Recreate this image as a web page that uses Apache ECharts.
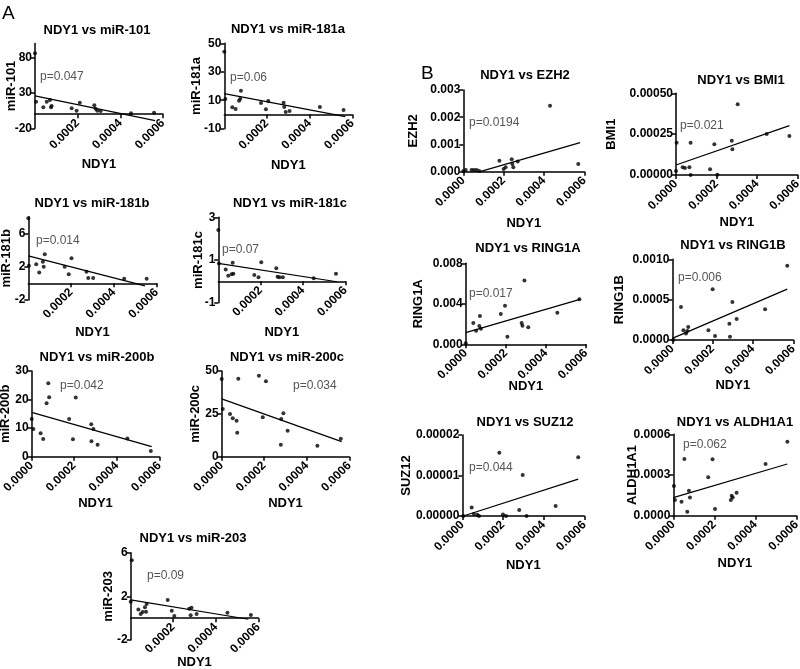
<!DOCTYPE html>
<html>
<head>
<meta charset="utf-8">
<script src="https://cdn.jsdelivr.net/npm/echarts@6/dist/echarts.min.js"></script>
<style>
  html, body { margin: 0; padding: 0; background: #fff; }
  #main { width: 800px; height: 669px; }
</style>
</head>
<body>
<div id="main"></div>
<script>
// x ticks shared by every panel (NDY1)
const xTicksShort = [0.0002, 0.0004, 0.0006]
const xTicksFull = [0, 0.0002, 0.0004, 0.0006]

// ---- panel A: NDY1 vs miRNAs ----
const mir101 = [[0, 86.3], [0.000005, 17.7], [0.000039, 9.8], [0.000055, 17.7], [0.00007, 20.1], [0.000075, 9.8], [0.000078, 11.6], [0.000172, 8.3], [0.000195, 5], [0.00021, 16.3], [0.000278, 12.6], [0.000284, 7.8], [0.000292, 5], [0.000308, 4.5], [0.00045, 1.3], [0.000558, 2.1]]
const mir101Fit = [[0, 26], [0.000563, -9.2]]
const mir101Ticks = [-20, 30, 80]

const mir181a = [[0, 44.1], [0.000005, 10.9], [0.0000375, 5.1], [0.000053, 3.9], [0.000069, 9.7], [0.000075, 11.1], [0.000078, 16.7], [0.000172, 8.1], [0.000195, 3.7], [0.000206, 9.5], [0.000278, 8.3], [0.000281, 5.3], [0.000288, 1.8], [0.000306, 2.5], [0.000448, 5.3], [0.000559, 3.2]]
const mir181aFit = [[0, 14.6], [0.000567, -1.5]]
const mir181aTicks = [-10, 10, 30, 50]

const mir181b = [[0, 7.8], [0.000003, 2.1], [0.000037, 2.3], [0.000051, 1.3], [0.000068, 2.6], [0.000072, 2.0], [0.000077, 3.5], [0.00017, 2.0], [0.000189, 1.1], [0.000202, 3.0], [0.000272, 1.4], [0.00028, 0.64], [0.000303, 0.64], [0.000448, 0.55], [0.000553, 0.55]]
const mir181bFit = [[0, 3.3], [0.000545, -0.3]]
const mir181bTicks = [-2, 2, 6]

const mir181c = [[0, 2.4], [0.000003, 0.84], [0.000035, 0.56], [0.000047, 0.26], [0.000063, 0.33], [0.000068, 0.87], [0.000071, 0.36], [0.00017, 0.3], [0.00019, 0.19], [0.000203, 0.89], [0.000274, 0.61], [0.00028, 0.22], [0.000289, 0.19], [0.000305, 0.19], [0.000451, 0.15], [0.000556, 0.36]]
const mir181cFit = [[0, 0.84], [0.00056, -0.02]]
const mir181cTicks = [-1, 1, 3]

const mir200b = [[0, 13.2], [0.000008, 9.7], [0.000042, 8.2], [0.000054, 6.2], [0.00007, 18.7], [0.000078, 25.7], [0.000082, 20.8], [0.000176, 13.2], [0.000194, 6.1], [0.000207, 20.7], [0.00028, 11.4], [0.00029, 9.7], [0.000281, 5.4], [0.00031, 4.2], [0.00045, 6.4], [0.00056, 2]]
const mir200bFit = [[0, 15.5], [0.000564, 3.5]]
const mir200bTicks = [0, 10, 20, 30]

const mir200c = [[0, 45.3], [0.000005, 27.8], [0.000039, 24.9], [0.000052, 22.4], [0.00007, 21], [0.000073, 14], [0.000078, 45.5], [0.000175, 47.3], [0.000193, 23], [0.000208, 44], [0.00028, 22], [0.00029, 25.3], [0.000278, 7], [0.00031, 15.2], [0.00045, 6.4], [0.00056, 10.5]]
const mir200cFit = [[0, 33.7], [0.000564, 8.8]]
const mir200cTicks = [0, 25, 50]

const mir203 = [[0.000005, 5.3], [0, 1.5], [0.000036, 0.8], [0.000047, 0.38], [0.000056, 0.57], [0.000067, 1.0], [0.000072, 0.6], [0.000075, 1.3], [0.000174, 1.67], [0.000193, 0.69], [0.000205, 0.2], [0.000275, 0.87], [0.000286, 0.96], [0.000282, 0.27], [0.00031, 0.38], [0.000455, 0.5], [0.000565, 0.29]]
const mir203Fit = [[0, 1.67], [0.000553, -0.1]]
const mir203Ticks = [-2, 2, 6]

// ---- panel B: NDY1 vs polycomb / ALDH1A1 ----
const ezh2 = [[0, 0.00003], [0.000012, 0.00006], [0.000041, 0.00006], [0.000053, 0.00006], [0.000066, 0.00006], [0.000079, 0.00003], [0.000179, 0.0004], [0.0002, 0.0001], [0.00021, 0.00016], [0.00024, 0.00046], [0.000243, 0.00028], [0.000248, 0.00016], [0.00027, 0.00037], [0.00043, 0.00242], [0.00057, 0.00028]]
const ezh2Fit = [[0.000083, 0], [0.000579, 0.00107]]
const ezh2Ticks = [0, 0.001, 0.002, 0.003]

const bmi1 = [[0, 0.0000245], [0.000003, 0.000198], [0.000033, 0.000047], [0.000044, 0.000043], [0.000066, 0.000047], [0.000072, 0.000198], [0.000072, 0], [0.000168, 0.000035], [0.000189, 0.000188], [0.000204, 0.000002], [0.000275, 0.00021], [0.000278, 0.000157], [0.000304, 0.000433], [0.000447, 0.000251], [0.000559, 0.000239]]
const bmi1Fit = [[0, 0.000061], [0.000559, 0.000302]]
const bmi1Ticks = [0, 0.00025, 0.0005]

const ring1a = [[0, 0.0001], [0.000038, 0.0021], [0.000052, 0.00135], [0.000068, 0.0018], [0.000071, 0.0028], [0.000076, 0.00154], [0.000175, 0.003], [0.000196, 0.0038], [0.000208, 0.00075], [0.000279, 0.0021], [0.000283, 0.00184], [0.000293, 0.0063], [0.000312, 0.00168], [0.000457, 0.00312], [0.000567, 0.00444]]
const ring1aFit = [[0, 0.00115], [0.00057, 0.00444]]
const ring1aTicks = [0, 0.004, 0.008]

const ring1b = [[0.000005, 0], [0.000043, 0.00041], [0.000055, 0.00012], [0.000068, 0.00008], [0.000074, 0.00011], [0.000079, 0.00016], [0.000179, 0.00012], [0.0002, 0.00063], [0.000212, 0.00005], [0.000283, 0.0002], [0.000286, 0.00004], [0.000298, 0.00047], [0.000319, 0.00026], [0.00046, 0.00038], [0.00057, 0.00092]]
const ring1bFit = [[0, 0.00002], [0.00057, 0.00063]]
const ring1bTicks = [0, 0.0005, 0.001]

const suz12 = [[0.000005, 0], [0.000046, 0.0000021], [0.000057, 0.0000005], [0.000074, 0.0000003], [0.000082, 0], [0.000182, 0.0000156], [0.0002, 0.0000004], [0.000215, 0], [0.00028, 0.0000015], [0.000297, 0.0000101], [0.000316, 0], [0.000459, 0.0000025], [0.00057, 0.0000145]]
const suz12Fit = [[0.000005, 0], [0.00057, 0.0000091]]
const suz12Ticks = [0, 0.00001, 0.00002]

const aldh1a1 = [[0.000003, 0.000219], [0.000008, 0.000116], [0.00004, 0.000103], [0.000054, 0.000418], [0.000068, 0.00003], [0.000076, 0.000184], [0.000081, 0.000135], [0.00017, 0.000283], [0.000191, 0.000416], [0.000203, 0.000049], [0.00028, 0.000116], [0.000284, 0.000147], [0.000289, 0.000135], [0.000308, 0.00017], [0.000449, 0.000381], [0.000555, 0.000546]]
const aldh1a1Fit = [[0, 0.000133], [0.000555, 0.000381]]
const aldh1a1Ticks = [0, 0.0003, 0.0006]

const FONT = 'Liberation Sans, Arial, sans-serif'

// layout of each small plot (grid box in px, label positions)
const panels = [
  { name: 'miR-101', p: 'p=0.047', data: mir101, fit: mir101Fit, ticks: mir101Ticks, min: -20, max: 100, dec: 0,
    box: [35, 43.6, 128, 84.7], xt: xTicksShort, titleAt: [97, 30], pAt: [40, 77], yGap: 17, xGap: 44 },
  { name: 'miR-181a', p: 'p=0.06', data: mir181a, fit: mir181aFit, ticks: mir181aTicks, min: -10, max: 50, dec: 0,
    box: [224.3, 43.3, 128, 85.4], xt: xTicksShort, titleAt: [288, 29], pAt: [230, 78], yGap: 21, xGap: 44 },
  { name: 'miR-181b', p: 'p=0.014', data: mir181b, fit: mir181bFit, ticks: mir181bTicks, min: -2, max: 8, dec: 0,
    box: [28.3, 216.7, 128.4, 83.3], xt: xTicksShort, titleAt: [92, 203], pAt: [36, 241], yGap: 15, xGap: 43 },
  { name: 'miR-181c', p: 'p=0.07', data: mir181c, fit: mir181cFit, ticks: mir181cTicks, min: -1, max: 3, dec: 0,
    box: [218.3, 217.3, 127, 85.4], xt: xTicksShort, titleAt: [290, 203], pAt: [222, 250], yGap: 13, xGap: 45 },
  { name: 'miR-200b', p: 'p=0.042', data: mir200b, fit: mir200bFit, ticks: mir200bTicks, min: 0, max: 30, dec: 0,
    box: [31.7, 371, 127.6, 85.7], xt: xTicksFull, titleAt: [97, 357], pAt: [60, 386], yGap: 20, xGap: 40 },
  { name: 'miR-200c', p: 'p=0.034', data: mir200c, fit: mir200cFit, ticks: mir200cTicks, min: 0, max: 50, dec: 0,
    box: [221.7, 371, 127.6, 85.7], xt: xTicksFull, titleAt: [287, 357], pAt: [293, 386], yGap: 20, xGap: 40 },
  { name: 'miR-203', p: 'p=0.09', data: mir203, fit: mir203Fit, ticks: mir203Ticks, min: -2, max: 6, dec: 0,
    box: [130.7, 552.7, 127.6, 87.3], xt: xTicksShort, titleAt: [193, 538], pAt: [147, 576], yGap: 16, xGap: 38 },
  { name: 'EZH2', p: 'p=0.0194', data: ezh2, fit: ezh2Fit, ticks: ezh2Ticks, min: 0, max: 0.003, dec: 3,
    box: [463.3, 90, 121, 81.7], xt: xTicksFull, titleAt: [525, 75], pAt: [469, 123], yGap: 43, xGap: 45 },
  { name: 'BMI1', p: 'p=0.021', data: bmi1, fit: bmi1Fit, ticks: bmi1Ticks, min: 0, max: 0.0005, dec: 5,
    box: [676, 93.3, 121.7, 81.7], xt: xTicksFull, titleAt: [741, 80], pAt: [680, 126], yGap: 58, xGap: 41 },
  { name: 'RING1A', p: 'p=0.017', data: ring1a, fit: ring1aFit, ticks: ring1aTicks, min: 0, max: 0.008, dec: 3,
    box: [465.7, 263.3, 120.3, 81], xt: xTicksFull, titleAt: [528, 248], pAt: [469, 294], yGap: 41, xGap: 36 },
  { name: 'RING1B', p: 'p=0.006', data: ring1b, fit: ring1bFit, ticks: ring1bTicks, min: 0, max: 0.001, dec: 4,
    box: [672.3, 259.3, 121, 80.7], xt: xTicksFull, titleAt: [733, 245], pAt: [678, 278], yGap: 46, xGap: 39 },
  { name: 'SUZ12', p: 'p=0.044', data: suz12, fit: suz12Fit, ticks: suz12Ticks, min: 0, max: 0.00002, dec: 5,
    box: [462.3, 435, 122, 81], xt: xTicksFull, titleAt: [525, 422], pAt: [469, 468], yGap: 49, xGap: 43 },
  { name: 'ALDH1A1', p: 'p=0.062', data: aldh1a1, fit: aldh1a1Fit, ticks: aldh1a1Ticks, min: 0, max: 0.0006, dec: 4,
    box: [673.3, 434.3, 123.3, 81.4], xt: xTicksFull, titleAt: [735, 422], pAt: [683, 445], yGap: 34, xGap: 41 }
]

const axisLine = { color: '#000', width: 1.5 }
const grid = [], xAxis = [], yAxis = [], series = []
const graphic = [
  { type: 'text', style: { text: 'A', x: 2, y: 4, font: '19px ' + FONT, fill: '#000' } },
  { type: 'text', style: { text: 'B', x: 421, y: 64, font: '19px ' + FONT, fill: '#000' } }
]

panels.forEach((pn, i) => {
  const [left, top, width, height] = pn.box
  // the x axis sits on y = 0, so shift it up from the grid bottom
  const zeroShift = height * (0 - pn.min) / (pn.max - pn.min)
  grid.push({ left, top, width, height, containLabel: false, outerBoundsMode: 'none' })
  xAxis.push({
    gridIndex: i, type: 'value', min: 0, max: 0.0006, offset: -zeroShift,
    axisLine: { onZero: false, lineStyle: axisLine },
    axisTick: { customValues: pn.xt, length: 4, lineStyle: axisLine },
    axisLabel: {
      customValues: pn.xt, rotate: 45, margin: 7, color: '#000',
      fontFamily: FONT, fontWeight: 'bold', fontSize: 12,
      formatter: v => v.toFixed(4)
    },
    splitLine: { show: false },
    name: 'NDY1', nameLocation: 'middle', nameGap: pn.xGap, nameMoveOverlap: false,
    nameTextStyle: { color: '#000', fontFamily: FONT, fontWeight: 'bold', fontSize: 13 }
  })
  yAxis.push({
    gridIndex: i, type: 'value', min: pn.min, max: pn.max,
    axisLine: { onZero: false, lineStyle: axisLine },
    axisTick: { customValues: pn.ticks, length: 4, lineStyle: axisLine },
    axisLabel: {
      customValues: pn.ticks, margin: 3, color: '#000',
      fontFamily: FONT, fontWeight: 'bold', fontSize: 12,
      formatter: v => v.toFixed(pn.dec)
    },
    splitLine: { show: false },
    name: pn.name, nameLocation: 'middle', nameGap: pn.yGap, nameRotate: 90, nameMoveOverlap: false,
    nameTextStyle: { color: '#000', fontFamily: FONT, fontWeight: 'bold', fontSize: 13 }
  })
  series.push({
    type: 'scatter', xAxisIndex: i, yAxisIndex: i, data: pn.data,
    symbolSize: 4, itemStyle: { color: '#000' }, clip: false, silent: true
  })
  series.push({
    type: 'line', xAxisIndex: i, yAxisIndex: i, data: pn.fit,
    symbol: 'none', lineStyle: { color: '#000', width: 1.2 }, silent: true
  })
  graphic.push({ type: 'text', style: {
    text: 'NDY1 vs ' + pn.name, x: pn.titleAt[0], y: pn.titleAt[1],
    align: 'center', verticalAlign: 'middle', font: 'bold 13px ' + FONT, fill: '#000' } })
  graphic.push({ type: 'text', style: {
    text: pn.p, x: pn.pAt[0], y: pn.pAt[1],
    verticalAlign: 'middle', font: '12px ' + FONT, fill: '#555' } })
})

const chart = echarts.init(document.getElementById('main'))
chart.setOption({
  animation: false,
  backgroundColor: '#fff',
  grid, xAxis, yAxis, series, graphic
})
</script>
</body>
</html>
